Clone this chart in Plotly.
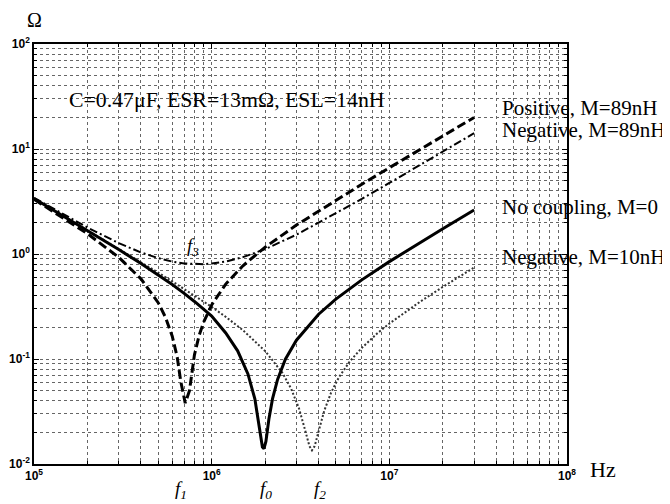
import plotly.graph_objects as go

# ---- data (frequency in Hz, impedance in Ohm) ----
freq_m0 = [1e5, 1.5e5, 2e5, 3e5, 4e5, 5e5, 6e5, 7e5, 8e5, 1e6, 1.2e6, 1.4e6, 1.6e6,
           1.75e6, 1.85e6, 1.93e6, 1.97e6, 2.02e6, 2.1e6, 2.2e6, 2.35e6, 2.6e6, 3e6,
           4e6, 5e6, 7e6, 1e7, 1.5e7, 2e7, 3e7]
z_m0 = [3.38, 2.244, 1.675, 1.102, 0.811, 0.633, 0.512, 0.422, 0.353, 0.256, 0.177,
        0.1197, 0.0721, 0.0417, 0.0241, 0.0145, 0.014, 0.0164, 0.0268, 0.0417, 0.0639,
        0.0994, 0.151, 0.267, 0.372, 0.567, 0.846, 1.297, 1.742, 2.628]

freq_pos89 = [1e5, 1.5e5, 2e5, 3e5, 4e5, 5e5, 5.5e5, 6e5, 6.4e5, 6.7e5, 7.1e5, 7.5e5,
              8e5, 8.5e5, 9e5, 1e6, 1.2e6, 1.5e6, 2e6, 3e6, 5e6, 7e6, 1e7, 1.5e7, 2e7, 3e7]
z_pos89 = [3.319, 2.158, 1.560, 0.929, 0.580, 0.344, 0.249, 0.165, 0.104, 0.061, 0.038,
           0.050, 0.1095, 0.1677, 0.2231, 0.3274, 0.517, 0.773, 1.163, 1.885, 3.262,
           4.614, 6.626, 9.967, 13.30, 19.97]

freq_neg89 = [1e5, 1.5e5, 2e5, 3e5, 4e5, 5e5, 6e5, 7e5, 8e5, 9e5, 1e6, 1.2e6, 1.5e6,
              2e6, 3e6, 5e6, 7e6, 1e7, 1.5e7, 2e7, 3e7]
z_neg89 = [3.433, 2.328, 1.787, 1.270, 1.035, 0.913, 0.847, 0.814, 0.800, 0.800, 0.810,
           0.848, 0.933, 1.112, 1.527, 2.424, 3.347, 4.746, 7.091, 9.441, 14.15]

freq_neg10 = [1e5, 1.5e5, 2e5, 3e5, 4e5, 5e5, 6e5, 7e5, 8e5, 1e6, 1.2e6, 1.5e6, 2e6,
              2.5e6, 2.8e6, 3.1e6, 3.35e6, 3.55e6, 3.67e6, 3.8e6, 4e6, 4.3e6, 4.7e6,
              5.2e6, 6e6, 7e6, 8.5e6, 1e7, 1.5e7, 2e7, 3e7]
z_neg10 = [3.383, 2.254, 1.688, 1.121, 0.837, 0.665, 0.549, 0.466, 0.403, 0.3135, 0.252,
           0.188, 0.119, 0.0738, 0.0521, 0.0339, 0.0213, 0.0148, 0.0135, 0.0148, 0.0205,
           0.0321, 0.0479, 0.0669, 0.0953, 0.1275, 0.1738, 0.2174, 0.354, 0.486, 0.743]

x_ticks = [1e5, 1e6, 1e7, 1e8]
x_tick_text = ["10<sup>5</sup>", "10<sup>6</sup>", "10<sup>7</sup>", "10<sup>8</sup>"]
y_ticks = [1e-2, 1e-1, 1e0, 1e1, 1e2]
y_tick_text = ["10<sup>-2</sup>", "10<sup>-1</sup>", "10<sup>0</sup>", "10<sup>1</sup>", "10<sup>2</sup>"]

fig = go.Figure()
fig.add_trace(go.Scatter(x=freq_neg10, y=z_neg10, mode="lines",
                         line=dict(color="#333333", width=2, dash="2px,2px")))
fig.add_trace(go.Scatter(x=freq_neg89, y=z_neg89, mode="lines",
                         line=dict(color="black", width=2, dash="8px,3px,2px,3px")))
fig.add_trace(go.Scatter(x=freq_pos89, y=z_pos89, mode="lines",
                         line=dict(color="black", width=3, dash="9px,4px")))
fig.add_trace(go.Scatter(x=freq_m0, y=z_m0, mode="lines",
                         line=dict(color="black", width=3)))

grid = dict(showgrid=True, gridcolor="#666666", gridwidth=1, griddash="dot")
tickfont = dict(family="Liberation Sans", size=12, color="black", weight="bold")

fig.update_xaxes(type="log", range=[5, 8], tickmode="array", tickvals=x_ticks,
                 ticktext=x_tick_text, ticks="inside", ticklen=5, tickcolor="black",
                 showline=True, linecolor="black", linewidth=1.5, mirror="ticks",
                 zeroline=False, tickfont=tickfont, automargin=False,
                 minor=dict(dtick="D1", ticks="inside", ticklen=3, tickcolor="black",
                            **grid),
                 **grid)
fig.update_yaxes(type="log", range=[-2, 2], tickmode="array", tickvals=y_ticks,
                 ticktext=y_tick_text, ticks="inside", ticklen=5, tickcolor="black",
                 showline=True, linecolor="black", linewidth=1.5, mirror="ticks",
                 zeroline=False, tickfont=tickfont, automargin=False,
                 minor=dict(dtick="D1", ticks="inside", ticklen=3, tickcolor="black",
                            **grid),
                 **grid)

serif = "Liberation Serif"
ann = []
ann.append(dict(text="Ω", xref="paper", yref="paper", x=0.0, y=1.058,
                xanchor="center", yanchor="middle", showarrow=False,
                font=dict(family=serif, size=20, color="black")))
ann.append(dict(text="Hz", xref="paper", yref="paper", x=1.067, y=-0.014,
                xanchor="center", yanchor="middle", showarrow=False,
                font=dict(family=serif, size=22, color="black")))
ann.append(dict(text="C=0.47μF, ESR=13mΩ, ESL=14nH", xref="paper", yref="paper",
                x=0.061, y=0.867, xanchor="left", yanchor="middle", showarrow=False,
                font=dict(family=serif, size=21.8, color="black")))
for txt, yy in [("Positive, M=89nH", 0.848), ("Negative, M=89nH", 0.796),
                ("No coupling, M=0", 0.612), ("Negative, M=10nH", 0.493)]:
    ann.append(dict(text=txt, xref="paper", yref="paper", x=0.8737, y=yy,
                    xanchor="left", yanchor="middle", showarrow=False,
                    font=dict(family=serif, size=21, color="black")))
for txt, xx in [("<i>f<sub>1</sub></i>", 5.8295), ("<i>f<sub>0</sub></i>", 6.308),
                ("<i>f<sub>2</sub></i>", 6.608)]:
    ann.append(dict(text=txt, xref="x", yref="paper", x=xx, y=-0.062,
                    xanchor="center", yanchor="middle", showarrow=False,
                    font=dict(family=serif, size=19, color="black")))
ann.append(dict(text="<i>f<sub>3</sub></i>", xref="x", yref="y", x=5.893, y=0.068,
                xanchor="center", yanchor="middle", showarrow=False,
                font=dict(family=serif, size=19, color="black")))

# page body has an 8px default margin, so the figure is 8px smaller and margins shifted
fig.update_layout(width=662, height=496, autosize=False, showlegend=False,
                  margin=dict(l=26, r=103, t=36, b=40, pad=0),
                  plot_bgcolor="white", paper_bgcolor="white",
                  annotations=ann)

fig.write_html("out.html")
